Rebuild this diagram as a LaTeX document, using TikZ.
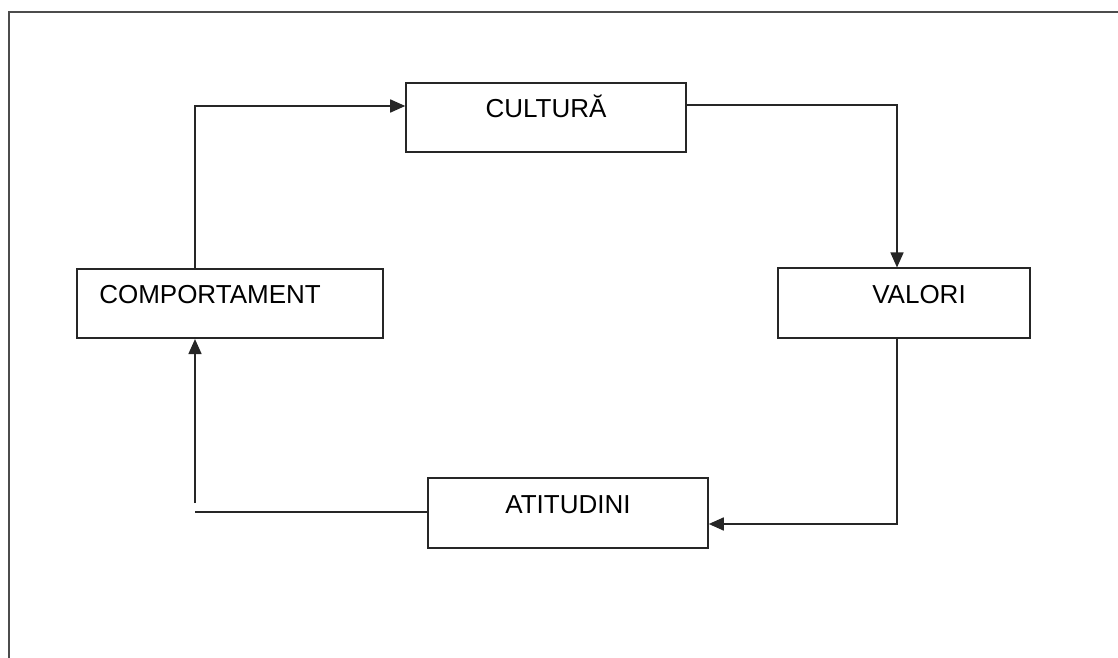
\documentclass[tikz,border=0pt]{standalone}
\usepackage{fontspec}
\setmainfont{Liberation Sans}
\usetikzlibrary{arrows.meta}
\begin{document}
\begin{tikzpicture}[x=0.02cm,y=-0.02cm,
  box/.style={draw=black!85,line width=0.9pt,inner sep=0pt,minimum height=1.39cm,
    text height=0.372cm,text depth=0.36cm,font=\fontsize{14.8}{17}\selectfont},
  arr/.style={draw=black!85,line width=0.9pt,-{Triangle[length=0.3cm,width=0.26cm]}},
  link/.style={draw=black!85,line width=0.9pt}]
\useasboundingbox (0,0) rectangle (1118,658);
% Outer frame
\draw[black!70,line width=1.1pt] (9,658) -- (9,12) -- (1118,12);
% Boxes
\node[box,minimum width=5.6cm]  (cultura)      at (546,117.5) {CULTURĂ};
\node[box,minimum width=6.12cm] (comportament) at (230,303.5) {COMPORTAMENT\hspace{0.8cm}\mbox{}};
\node[box,minimum width=5.04cm] (valori)       at (904,303)   {\hspace{0.6cm}VALORI};
\node[box,minimum width=5.6cm]  (atitudini)    at (568,513)   {ATITUDINI};
% Cycle
\draw[arr] ([xshift=-0.7cm]comportament.north) |- ([yshift=0.23cm]cultura.west);
\draw[arr] ([yshift=0.25cm]cultura.east) -| ([xshift=-0.14cm]valori.north);
\draw[arr] ([xshift=-0.14cm]valori.south) |- ([yshift=-0.22cm]atitudini.east);
% Broken return line
\coordinate (gapA) at (195,512);
\coordinate (gapB) at (195,503);
\draw[link] (atitudini.west |- gapA) -- (gapA);
\draw[arr] (gapB) -- (gapB |- comportament.south);
\end{tikzpicture}
\end{document}
